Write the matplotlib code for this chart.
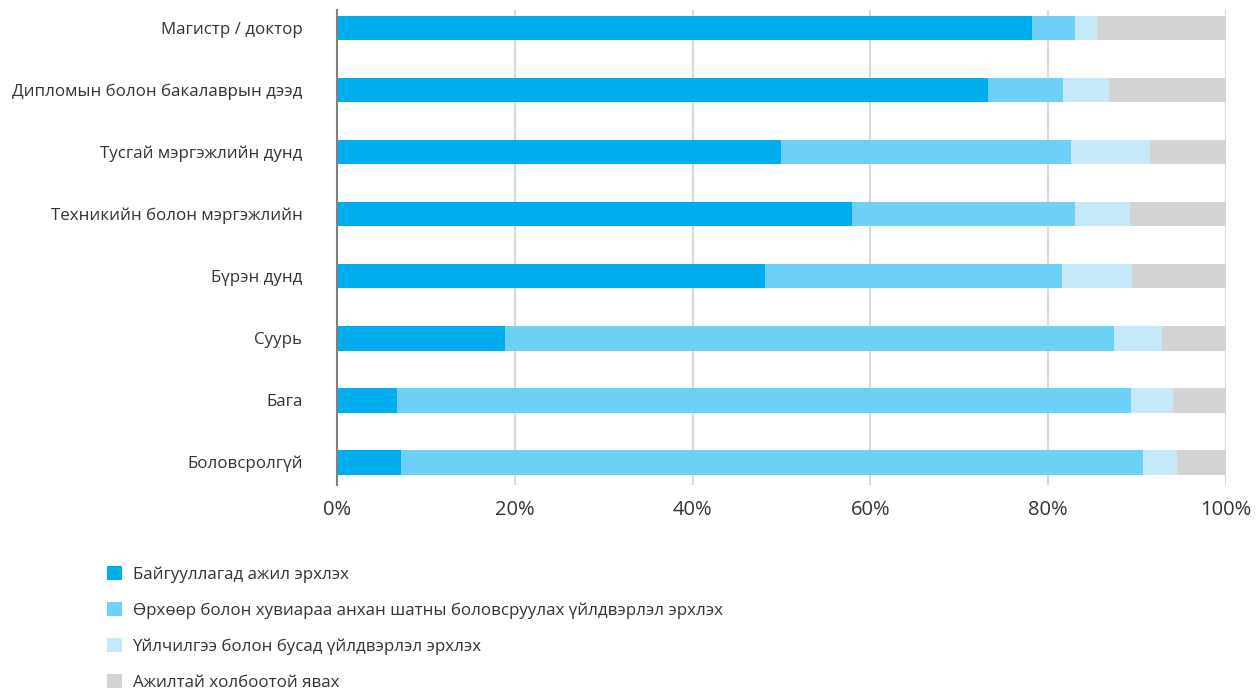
import numpy as np
import matplotlib.pyplot as plt
from matplotlib.patches import Patch
from matplotlib.ticker import PercentFormatter

plt.rcParams['font.family'] = ['Open Sans', 'DejaVu Sans']

categories = ['Магистр / доктор', 'Дипломын болон бакалаврын дээд',
              'Тусгай мэргэжлийн дунд', 'Техникийн болон мэргэжлийн',
              'Бүрэн дунд', 'Суурь', 'Бага', 'Боловсролгүй']
# percent shares per category (top to bottom)
employed = [78.2, 73.2, 49.9, 57.9, 48.1, 18.9, 6.7, 7.2]
primary = [4.8, 8.5, 32.7, 25.1, 33.5, 68.5, 82.6, 83.5]
services = [2.5, 5.1, 8.9, 6.2, 7.8, 5.4, 4.7, 3.8]
job_related = [14.5, 13.2, 8.5, 10.8, 10.6, 7.2, 6.0, 5.5]

series = [employed, primary, services, job_related]
labels = ['Байгууллагад ажил эрхлэх',
          'Өрхөөр болон хувиараа анхан шатны боловсруулах үйлдвэрлэл эрхлэх',
          'Үйлчилгээ болон бусад үйлдвэрлэл эрхлэх',
          'Ажилтай холбоотой явах']
colors = ['#00AEEF', '#6DD0F7', '#C5E9F9', '#D1D3D4']

fig = plt.figure(figsize=(12.58, 6.91), dpi=100)
ax = fig.add_axes([0.268, 0.298, 0.7066, 0.6875])

y = np.arange(len(categories))
left = np.zeros(len(categories))
for vals, c in zip(series, colors):
    ax.barh(y, vals, left=left, height=0.4, color=c, zorder=3)
    left += np.array(vals)

ax.set_xlim(0, 100)
ax.set_ylim(len(categories) - 1 + 0.37, -0.29)
ax.set_yticks(y)
ax.set_yticklabels(categories, fontsize=12.2, color='#333333')
ax.set_xticks(np.arange(0, 101, 20))
ax.xaxis.set_major_formatter(PercentFormatter(decimals=0))
ax.tick_params(axis='x', labelsize=14.5, colors='#333333', length=0, pad=11)
ax.tick_params(axis='y', length=0, pad=25)
ax.grid(axis='x', color='#D9D9D9', linewidth=1.5, zorder=0)
for s in ['top', 'right', 'bottom']:
    ax.spines[s].set_visible(False)
ax.spines['left'].set_color('#808080')
ax.spines['left'].set_linewidth(1.5)
ax.spines['left'].set_zorder(4)

handles = [Patch(facecolor=c, edgecolor='none') for c in colors]
fig.legend(handles, labels, loc='upper left', bbox_to_anchor=(0.073, 0.203),
           frameon=False, fontsize=12.2, labelcolor='#333333',
           handlelength=0.9, handleheight=0.9, handletextpad=0.6,
           labelspacing=1.13)

fig.savefig('out.png', dpi=100)
